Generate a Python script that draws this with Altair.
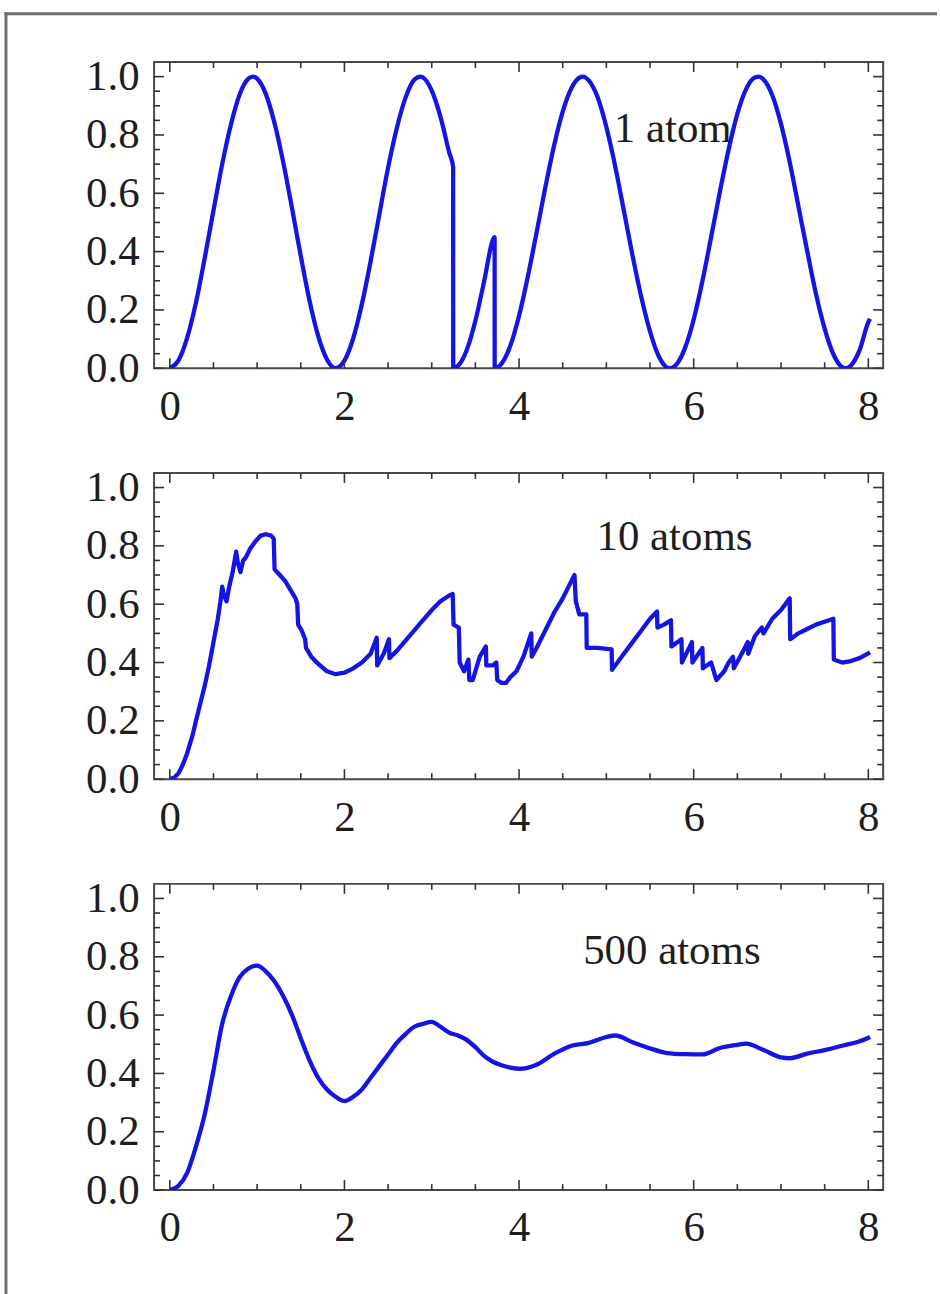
import altair as alt
import pandas as pd

# ---- data ----
T1 = [0.00, 0.10, 0.20, 0.30, 0.40, 0.50, 0.60, 0.70, 0.80, 0.90, 0.95, 1.00, 1.10, 1.20, 1.30, 1.40, 1.50,
      1.60, 1.70, 1.80, 1.90, 2.00, 2.10, 2.20, 2.30, 2.40, 2.50, 2.60, 2.70, 2.80, 2.87, 2.90, 3.00, 3.10,
      3.20, 3.245, 3.246, 3.30, 3.40, 3.50, 3.60, 3.70, 3.72, 3.721, 3.80, 3.90, 4.00, 4.10, 4.20, 4.30,
      4.40, 4.50, 4.60, 4.70, 4.73, 4.80, 4.90, 5.00, 5.10, 5.20, 5.30, 5.40, 5.50, 5.60, 5.70, 5.74, 5.80,
      5.90, 6.00, 6.10, 6.20, 6.30, 6.40, 6.50, 6.60, 6.70, 6.75, 6.80, 6.90, 7.00, 7.10, 7.20, 7.30, 7.40,
      7.50, 7.60, 7.70, 7.75, 7.80, 7.90, 8.00, 8.02]
P1 = [0.000, 0.027, 0.106, 0.226, 0.378, 0.541, 0.700, 0.836, 0.939, 0.993, 1.000, 0.993, 0.940, 0.840,
      0.705, 0.548, 0.385, 0.232, 0.110, 0.030, 0.000, 0.026, 0.102, 0.220, 0.367, 0.528, 0.688, 0.824,
      0.928, 0.989, 1.000, 0.997, 0.952, 0.862, 0.740, 0.690, 0.000, 0.008, 0.062, 0.163, 0.298, 0.440,
      0.450, 0.000, 0.016, 0.077, 0.180, 0.314, 0.464, 0.619, 0.762, 0.880, 0.961, 0.998, 1.000, 0.986,
      0.929, 0.827, 0.694, 0.541, 0.386, 0.244, 0.126, 0.041, 0.002, 0.000, 0.012, 0.069, 0.167, 0.299,
      0.450, 0.605, 0.750, 0.872, 0.957, 0.997, 1.000, 0.990, 0.936, 0.838, 0.707, 0.555, 0.402, 0.256,
      0.136, 0.048, 0.004, 0.000, 0.009, 0.062, 0.158, 0.170]

T2 = [0.00, 0.05, 0.10, 0.15, 0.20, 0.26, 0.30, 0.35, 0.40, 0.45, 0.50, 0.55, 0.58, 0.60, 0.62, 0.65,
      0.68, 0.72, 0.76, 0.78, 0.81, 0.84, 0.87, 0.92, 0.98, 1.04, 1.10, 1.16, 1.19, 1.20, 1.26, 1.32, 1.38,
      1.44, 1.46, 1.47, 1.51, 1.55, 1.56, 1.62, 1.70, 1.80, 1.90, 2.00, 2.10, 2.20, 2.30, 2.37, 2.375, 2.45,
      2.51, 2.515, 2.60, 2.70, 2.80, 2.90, 3.00, 3.10, 3.20, 3.24, 3.25, 3.31, 3.32, 3.37, 3.42, 3.43, 3.47,
      3.55, 3.62, 3.625, 3.70, 3.74, 3.75, 3.80, 3.85, 3.90, 3.97, 4.05, 4.14, 4.145, 4.20, 4.30, 4.40,
      4.50, 4.60, 4.635, 4.65, 4.69, 4.77, 4.775, 4.90, 5.06, 5.065, 5.20, 5.30, 5.40, 5.50, 5.58, 5.585,
      5.66, 5.74, 5.745, 5.86, 5.865, 5.98, 5.985, 6.10, 6.105, 6.20, 6.26, 6.35, 6.40, 6.45, 6.46, 6.55,
      6.62, 6.625, 6.70, 6.78, 6.80, 6.90, 7.00, 7.10, 7.105, 7.20, 7.30, 7.40, 7.50, 7.60, 7.605, 7.70,
      7.80, 7.90, 8.02]
P2 = [0.000, 0.005, 0.020, 0.050, 0.090, 0.150, 0.200, 0.260, 0.320, 0.390, 0.470, 0.550, 0.610, 0.660,
      0.630, 0.610, 0.660, 0.710, 0.780, 0.740, 0.710, 0.750, 0.760, 0.790, 0.815, 0.835, 0.840, 0.835,
      0.825, 0.720, 0.700, 0.680, 0.650, 0.620, 0.600, 0.530, 0.510, 0.480, 0.450, 0.420, 0.395, 0.370,
      0.360, 0.365, 0.380, 0.400, 0.430, 0.485, 0.390, 0.430, 0.480, 0.415, 0.440, 0.475, 0.510, 0.545,
      0.580, 0.610, 0.630, 0.635, 0.530, 0.520, 0.400, 0.370, 0.410, 0.340, 0.340, 0.420, 0.455, 0.390,
      0.390, 0.400, 0.340, 0.330, 0.330, 0.350, 0.370, 0.420, 0.500, 0.420, 0.450, 0.510, 0.570, 0.620,
      0.680, 0.700, 0.610, 0.565, 0.565, 0.450, 0.450, 0.445, 0.375, 0.430, 0.470, 0.510, 0.550, 0.575,
      0.520, 0.530, 0.545, 0.455, 0.480, 0.400, 0.470, 0.400, 0.450, 0.380, 0.400, 0.340, 0.370, 0.400,
      0.420, 0.380, 0.430, 0.470, 0.430, 0.490, 0.520, 0.500, 0.550, 0.580, 0.620, 0.480, 0.500, 0.515,
      0.530, 0.540, 0.550, 0.410, 0.400, 0.405, 0.415, 0.435]

T3 = [0.0, 0.1, 0.2, 0.3, 0.4, 0.5, 0.6, 0.7, 0.8, 0.9, 1.0, 1.1, 1.2, 1.3, 1.4, 1.5, 1.6, 1.7, 1.8, 1.9,
      2.0, 2.1, 2.2, 2.3, 2.4, 2.5, 2.6, 2.7, 2.8, 2.9, 3.0, 3.1, 3.2, 3.3, 3.4, 3.5, 3.6, 3.7, 3.8, 3.9,
      4.0, 4.2, 4.4, 4.6, 4.8, 5.0, 5.1, 5.3, 5.5, 5.7, 5.9, 6.1, 6.3, 6.5, 6.6, 6.8, 7.0, 7.1, 7.3, 7.5,
      7.7, 7.9, 8.02]
P3 = [0.000, 0.015, 0.060, 0.150, 0.260, 0.410, 0.570, 0.665, 0.730, 0.760, 0.770, 0.750, 0.715, 0.665,
      0.600, 0.520, 0.445, 0.385, 0.345, 0.320, 0.305, 0.320, 0.345, 0.385, 0.425, 0.465, 0.505, 0.535,
      0.560, 0.570, 0.577, 0.560, 0.540, 0.530, 0.515, 0.490, 0.460, 0.440, 0.428, 0.420, 0.416, 0.430,
      0.467, 0.495, 0.505, 0.525, 0.530, 0.507, 0.486, 0.470, 0.466, 0.465, 0.487, 0.498, 0.502, 0.480,
      0.455, 0.452, 0.468, 0.480, 0.495, 0.510, 0.525]

LABELS = ["1 atom", "10 atoms", "500 atoms"]
LABEL_T = [5.76, 5.78, 5.75]
LABEL_P = [0.82, 0.83, 0.82]

X_MAJOR = [0, 2, 4, 6, 8]
X_MINOR = [0.5, 1, 1.5, 2.5, 3, 3.5, 4.5, 5, 5.5, 6.5, 7, 7.5]
Y_MAJOR = [0.0, 0.2, 0.4, 0.6, 0.8, 1.0]
Y_MINOR = [0.05, 0.1, 0.15, 0.25, 0.3, 0.35, 0.45, 0.5, 0.55, 0.65, 0.7, 0.75, 0.85, 0.9, 0.95]

W, H = 731, 307
FONT = "Liberation Serif"
BLUE = "#1414e4"
INK = "#1e1e1e"

xscale = alt.Scale(domain=[-0.18, 8.17], nice=False, zero=False)
yscale = alt.Scale(domain=[0, 1.05], nice=False, zero=False)
xaxis = alt.Axis(values=X_MAJOR, format="d", ticks=False, domain=False, grid=False, title=None,
                 labelFont=FONT, labelFontSize=43, labelColor=INK, labelPadding=17)
yaxis = alt.Axis(values=Y_MAJOR, format=".1f", ticks=False, domain=False, grid=False, title=None,
                 labelFont=FONT, labelFontSize=43, labelColor=INK, labelPadding=15)


def X(f="t"):
    return alt.X(f + ":Q", scale=xscale, axis=xaxis)


def Y(f="p"):
    return alt.Y(f + ":Q", scale=yscale, axis=yaxis)


def panel(ts, ps, k, interp, frame=False):
    df = pd.DataFrame({"t": ts, "p": ps, "i": list(range(len(ts)))})
    line = alt.Chart(df).mark_line(color=BLUE, strokeWidth=4.3, clip=True, interpolate=interp,
                                   strokeJoin="round").encode(x=X(), y=Y(), order="i:Q")
    layers = [line]
    for vals, L in ((X_MAJOR, 10), (X_MINOR, 6)):
        d = pd.DataFrame({"t": vals})
        layers.append(alt.Chart(d).mark_rule(color="#333", strokeWidth=1.6).encode(
            x=X(), y=alt.value(H), y2=alt.value(H - L)))
        layers.append(alt.Chart(d).mark_rule(color="#333", strokeWidth=1.6).encode(
            x=X(), y=alt.value(0), y2=alt.value(L)))
    for vals, L in ((Y_MAJOR, 10), (Y_MINOR, 6)):
        d = pd.DataFrame({"p": vals})
        layers.append(alt.Chart(d).mark_rule(color="#333", strokeWidth=1.6).encode(
            y=Y(), x=alt.value(0), x2=alt.value(L)))
        layers.append(alt.Chart(d).mark_rule(color="#333", strokeWidth=1.6).encode(
            y=Y(), x=alt.value(W), x2=alt.value(W - L)))
    lab = pd.DataFrame({"t": [LABEL_T[k]], "p": [LABEL_P[k]], "s": [LABELS[k]]})
    layers.append(alt.Chart(lab).mark_text(font=FONT, fontSize=43, color=INK, align="center",
                                           baseline="middle").encode(x=X(), y=Y(), text="s:N"))
    if frame:
        one = pd.DataFrame({"a": [0]})
        layers.append(alt.Chart(one).mark_rule(color="#6f6f6f", strokeWidth=3).encode(
            x=alt.value(-148.5), y=alt.value(-50), y2=alt.value(1236)))
        layers.append(alt.Chart(one).mark_rule(color="#6f6f6f", strokeWidth=3).encode(
            x=alt.value(-150), x2=alt.value(785), y=alt.value(-48.5)))
    return alt.layer(*layers).properties(width=W, height=H)


chart = alt.vconcat(
    panel(T1, P1, 0, "monotone", frame=True),
    panel(T2, P2, 1, "linear"),
    panel(T3, P3, 2, "monotone"),
    spacing=105,
    bounds="flush",
).properties(
    padding={"left": 1.5, "top": 7.5, "right": 0, "bottom": 0},
    background="white",
).configure_view(
    stroke="#4a4a4a", strokeWidth=2
)

chart.save("out.html", embed_options={"renderer": "svg", "actions": False})
